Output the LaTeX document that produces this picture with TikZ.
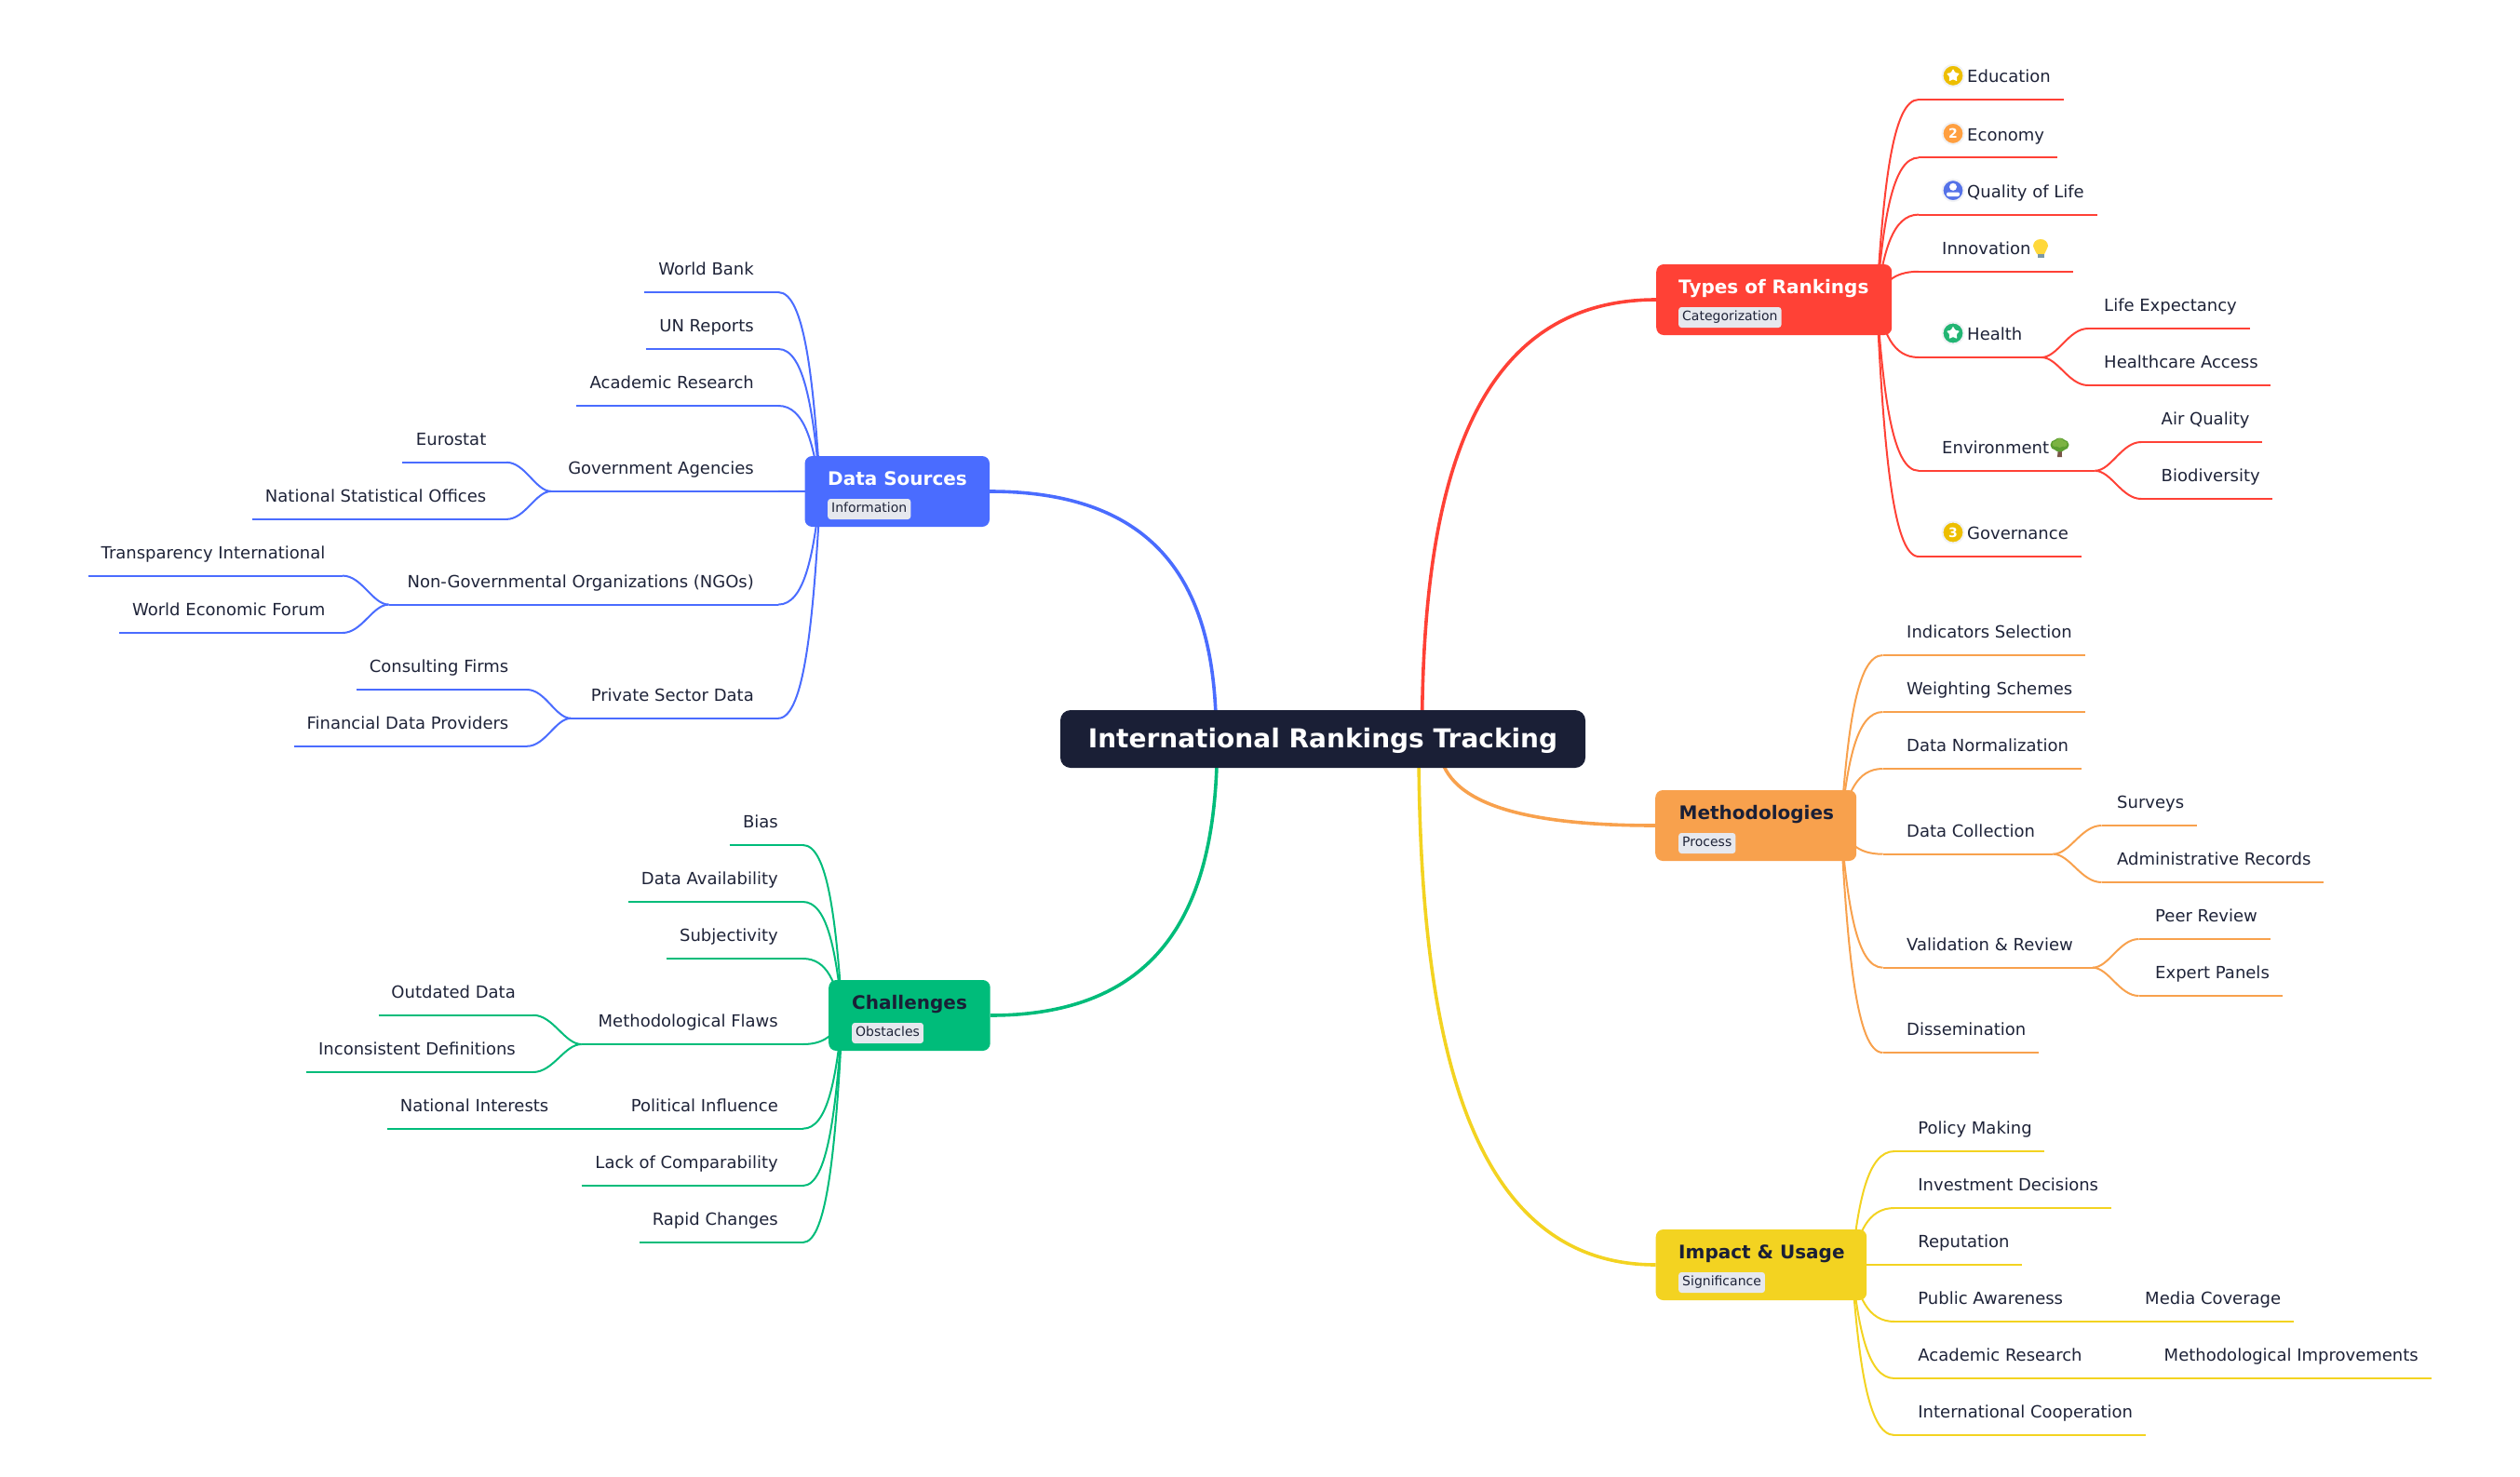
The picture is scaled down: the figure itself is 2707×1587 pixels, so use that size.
\documentclass[tikz,border=0pt]{standalone}
\usepackage{fontspec}
\setmainfont{DejaVu Sans}
\usetikzlibrary{calc,backgrounds,shapes.geometric}
\definecolor{tred}{HTML}{FF4136}
\definecolor{tblue}{HTML}{4A6CFF}
\definecolor{torange}{HTML}{F8A14D}
\definecolor{tgreen}{HTML}{00BC7A}
\definecolor{tyellow}{HTML}{F3D321}
\definecolor{tdark}{HTML}{1A1F36}
\definecolor{ttext}{HTML}{1E2338}
\definecolor{ttag}{HTML}{E6E8EE}
\definecolor{icyel}{HTML}{EDBE00}
\definecolor{icora}{HTML}{FF9F40}
\definecolor{icblu}{HTML}{5572E8}
\definecolor{icgrn}{HTML}{22B573}
\definecolor{halo}{HTML}{F1F2F5}
\definecolor{bulbc}{HTML}{FFD83A}
\definecolor{bulbb}{HTML}{7C98A6}
\definecolor{trunkc}{HTML}{795548}
\definecolor{treea}{HTML}{5C9E31}
\definecolor{treeb}{HTML}{7CB342}
\newcommand{\leaffont}{\fontsize{18}{20}\selectfont}
\newcommand{\titlefont}{\fontsize{20}{22}\selectfont\bfseries}
\newcommand{\rootfont}{\fontsize{28}{30}\selectfont\bfseries}
\newcommand{\tagfont}{\fontsize{14}{16}\selectfont}
\tikzset{
  x=1pt,y=-1pt,
  leaf/.style={inner sep=0pt,text height=15pt,text depth=18pt,text=ttext,font=\leaffont},
  branch/.style={line width=2pt},
  mainlink/.style={line width=3.6pt},
  mainbox/.style={rectangle,rounded corners=8pt,minimum height=76pt,inner sep=0pt,anchor=west},
  boxtitle/.style={inner sep=0pt,anchor=base west,font=\titlefont},
  boxtag/.style={rectangle,rounded corners=3pt,fill=ttag,text=ttext,font=\tagfont,inner xsep=4pt,inner ysep=0pt,
    text height=10.5pt,text depth=3.5pt,minimum height=22pt,anchor=west},
  rootbox/.style={rectangle,rounded corners=11pt,fill=tdark,text=white,font=\rootfont,minimum width=564pt,minimum height=62pt,inner sep=0pt,text height=22pt,text depth=4pt},
  iconbg/.style={circle,minimum size=23pt,inner sep=0pt,draw=halo,line width=2pt},
  iconmark/.style={star,star points=5,star point ratio=1.9,minimum size=15pt,inner sep=0pt,fill=white,rounded corners=1pt},
  icontext/.style={text=white,inner sep=0pt,font=\fontsize{14}{14}\selectfont\bfseries},
}
\newcommand{\bc}{tred}
\newcommand{\leafR}[6]{%
  \pgfmathsetmacro\lfwd{#3-#2}\pgfmathsetmacro\lfpd{#5-#2}%
  \node[leaf,anchor=south west] (#1) at (#2,#4) {\makebox[\lfwd pt][l]{\hspace*{\lfpd pt}#6}};
  \draw[branch,draw=\bc] (#1.south west) -- (#1.south east);}
\newcommand{\leafL}[6]{%
  \pgfmathsetmacro\lfwd{#3-#2}\pgfmathsetmacro\lfpd{#3-#5}%
  \node[leaf,anchor=south east] (#1) at (#3,#4) {\makebox[\lfwd pt][r]{#6\hspace*{\lfpd pt}}};
  \draw[branch,draw=\bc] (#1.south west) -- (#1.south east);}
\newcommand{\curvelink}[6]{\draw[#1] let \p1=(#2), \p2=(#3) in (\p1) .. controls ({\x1+#4*(\x2-\x1)},{\y1+#5*(\y2-\y1)}) and ({\x1+#6*(\x2-\x1)},\y2) .. (\p2);}
\newcommand{\BL}[2]{\curvelink{branch,draw=\bc}{#1}{#2}{.16}{.55}{.37}}
\newcommand{\SL}[2]{\curvelink{branch,draw=\bc}{#1}{#2}{.35}{0}{.58}}
\newcommand{\ML}[3]{\curvelink{mainlink,draw=#1}{#2}{#3}{0}{.5}{.15}}
\begin{document}
\begin{tikzpicture}
\useasboundingbox (0,0) rectangle (2707,1587);
% root
\node[rootbox] (root) at (1421,794) {International Rankings Tracking};
\coordinate (root-ds) at ([xshift=-114.5pt]root.center);
\coordinate (root-ch) at ([xshift=-113.5pt]root.center);
\coordinate (root-ty) at ([xshift=106.5pt]root.center);
\coordinate (root-im) at ([xshift=103pt]root.center);
\coordinate (root-me) at ([xshift=124pt]root.center);
% main boxes
\node[mainbox,fill=tred,minimum width=253pt] (types) at (1779,322) {};
\node[boxtitle,text=white] (types-t) at (1803,315) {Types of Rankings};
\node[boxtag] (types-g) at (1803,341) {Categorization};
\coordinate (types-o) at ([xshift=-16.5pt]types.east);
\node[mainbox,fill=tblue,minimum width=198.5pt] (ds) at (864.3,528) {};
\node[boxtitle,text=white] (ds-t) at (889,521) {Data Sources};
\node[boxtag] (ds-g) at (889,547) {Information};
\coordinate (ds-o) at ([xshift=17pt]ds.west);
\node[mainbox,fill=torange,minimum width=216pt] (meth) at (1778,887) {};
\node[boxtitle,text=tdark] (meth-t) at (1803.5,880) {Methodologies};
\node[boxtag] (meth-g) at (1803,906) {Process};
\coordinate (meth-o) at ([xshift=-17pt]meth.east);
\node[mainbox,fill=tgreen,minimum width=173.5pt] (chal) at (890,1091) {};
\node[boxtitle,text=tdark] (chal-t) at (915,1084) {Challenges};
\node[boxtag] (chal-g) at (915,1110) {Obstacles};
\coordinate (chal-o) at ([xshift=15pt]chal.west);
\node[mainbox,fill=tyellow,minimum width=226.5pt] (imp) at (1778.5,1359) {};
\node[boxtitle,text=tdark] (imp-t) at (1803,1352) {Impact \& Usage};
\node[boxtag] (imp-g) at (1803,1378) {Significance};
\coordinate (imp-o) at ([xshift=-16.5pt]imp.east);
% Types of Rankings
\renewcommand{\bc}{tred}
\leafR{edu}{2061}{2216.5}{107}{2113}{Education}
\leafR{eco}{2061}{2210}{169.4}{2113}{Economy}
\leafR{qol}{2061}{2253}{230.6}{2113}{Quality of Life}
\leafR{inn}{2061}{2226.6}{291.8}{2086}{Innovation}
\leafR{hea}{2061}{2192.6}{384}{2113}{Health}
\leafR{env}{2061}{2250}{505.8}{2086}{Environment}
\leafR{gvn}{2061}{2235.7}{598}{2113}{Governance}
\leafR{life}{2243}{2416.5}{353}{2260}{Life Expectancy}
\leafR{hca}{2243}{2438.5}{414}{2260}{Healthcare Access}
\leafR{air}{2300}{2430}{475}{2321.5}{Air Quality}
\leafR{bio}{2300}{2441}{536}{2321.5}{Biodiversity}
% icons
\node[iconbg,fill=icyel] (ic1) at (2098,81.3) {};
\node[iconmark] (ic1m) at (ic1) {};
\node[iconbg,fill=icora] (ic2) at (2098,143.4) {};
\node[icontext] (ic2m) at (ic2) {2};
\node[iconbg,fill=icblu] (ic3) at (2098,204.6) {};
\fill[white] (2098,200.8) circle (4pt);
\fill[white,rounded corners=2pt] (2091,211) -- (2091,206.5) -- (2105,206.5) -- (2105,211) -- cycle;
\node[iconbg,fill=icgrn] (ic4) at (2098,358) {};
\node[iconmark] (ic4m) at (ic4) {};
\node[iconbg,fill=icyel] (ic5) at (2098,572) {};
\node[icontext] (ic5m) at (ic5) {3};
% bulb
\fill[bulbc] (2192,257) .. controls (2197,257) and (2200,260.5) .. (2200,264.5) .. controls (2200,268) and (2196.5,269.5) .. (2196,273) -- (2188,273) .. controls (2187.5,269.5) and (2184,268) .. (2184,264.5) .. controls (2184,260.5) and (2187,257) .. (2192,257) -- cycle;
\fill[bulbb] (2188.5,272.5) rectangle (2195.5,277);
% tree
\fill[trunkc] (2211,480) -- (2214.5,480) -- (2215,491) -- (2210,491) -- cycle;
\fill[treea] (2208,478) circle (5.5pt) (2217,478) circle (5.5pt) (2212.5,478) circle (7.5pt);
\fill[treeb] (2212.5,476) circle (5pt) (2207.5,477) circle (3pt) (2217.5,477) circle (3pt);
% Data Sources
\renewcommand{\bc}{tblue}
\leafL{wb}{692.6}{836}{314}{810}{World Bank}
\leafL{un}{694}{836}{375}{810}{UN Reports}
\leafL{ar}{619.7}{836}{436}{810}{Academic Research}
\leafL{ga}{592.5}{836}{527.9}{810}{Government Agencies}
\leafL{ngo}{418}{836}{649.6}{810}{Non-Governmental Organizations (NGOs)}
\leafL{psd}{613.7}{836}{771.8}{810}{Private Sector Data}
\leafL{est}{432.7}{544}{496.8}{522.5}{Eurostat}
\leafL{nso}{270.9}{544}{557.9}{522.5}{National Statistical Offices}
\leafL{tri}{95}{368}{618.6}{349.5}{Transparency International}
\leafL{wef}{128.3}{368}{680}{349.5}{World Economic Forum}
\leafL{cof}{383}{566}{741}{546.5}{Consulting Firms}
\leafL{fdp}{316}{566}{801.8}{546.5}{Financial Data Providers}
% Methodologies
\renewcommand{\bc}{torange}
\leafR{ind}{2022.5}{2240}{704}{2048}{Indicators Selection}
\leafR{wei}{2022.5}{2240}{765}{2048}{Weighting Schemes}
\leafR{nor}{2022.5}{2236}{826}{2048}{Data Normalization}
\leafR{dco}{2022.5}{2205}{917.7}{2048}{Data Collection}
\leafR{val}{2022.5}{2247.5}{1039.7}{2048}{Validation \& Review}
\leafR{dis}{2022.5}{2190}{1131}{2048}{Dissemination}
\leafR{sur}{2257.5}{2360}{887}{2274}{Surveys}
\leafR{adm}{2257.5}{2496}{948}{2274}{Administrative Records}
\leafR{pee}{2297.5}{2439}{1009}{2315}{Peer Review}
\leafR{exp}{2297.5}{2452}{1070}{2315}{Expert Panels}
% Challenges
\renewcommand{\bc}{tgreen}
\leafL{bia}{784}{862.5}{908}{836}{Bias}
\leafL{dav}{675}{862.5}{969}{836}{Data Availability}
\leafL{sub}{716}{862.5}{1030}{836}{Subjectivity}
\leafL{mfl}{625}{862.5}{1122}{836}{Methodological Flaws}
\leafL{pol}{650}{862.5}{1212.7}{836}{Political Influence}
\leafL{lac}{625}{862.5}{1274}{836}{Lack of Comparability}
\leafL{rap}{687}{862.5}{1335}{836}{Rapid Changes}
\leafL{out}{407}{572.5}{1090.7}{554}{Outdated Data}
\leafL{inc}{329}{572.5}{1152}{554}{Inconsistent Definitions}
\leafL{nat}{416}{610}{1212.7}{589.5}{National Interests}
% Impact
\renewcommand{\bc}{tyellow}
\leafR{pm}{2035}{2196}{1237}{2060.2}{Policy Making}
\leafR{inv}{2035}{2268}{1298}{2060.2}{Investment Decisions}
\leafR{rep}{2035}{2172}{1359}{2060.2}{Reputation}
\leafR{pub}{2035}{2240}{1420}{2060.2}{Public Awareness}
\leafR{aca}{2035}{2270}{1481}{2060.2}{Academic Research}
\leafR{int}{2035}{2304.5}{1542}{2060.2}{International Cooperation}
\leafR{med}{2285}{2463.5}{1420}{2304}{Media Coverage}
\leafR{mim}{2305}{2612}{1481}{2324.5}{Methodological Improvements}
% connectors
\begin{scope}[on background layer]
\ML{tblue}{root-ds}{ds.east}
\ML{tgreen}{root-ch}{chal.east}
\ML{tred}{root-ty}{types.west}
\ML{tyellow}{root-im}{imp.west}
\ML{torange}{root-me}{meth.west}
\renewcommand{\bc}{tred}
\BL{types-o}{edu.south west}\BL{types-o}{eco.south west}\BL{types-o}{qol.south west}\BL{types-o}{inn.south west}
\BL{types-o}{hea.south west}\BL{types-o}{env.south west}\BL{types-o}{gvn.south west}
\SL{hea.south east}{life.south west}\SL{hea.south east}{hca.south west}
\SL{env.south east}{air.south west}\SL{env.south east}{bio.south west}
\renewcommand{\bc}{tblue}
\BL{ds-o}{wb.south east}\BL{ds-o}{un.south east}\BL{ds-o}{ar.south east}\BL{ds-o}{ga.south east}\BL{ds-o}{ngo.south east}\BL{ds-o}{psd.south east}
\SL{ga.south west}{est.south east}\SL{ga.south west}{nso.south east}
\SL{ngo.south west}{tri.south east}\SL{ngo.south west}{wef.south east}
\SL{psd.south west}{cof.south east}\SL{psd.south west}{fdp.south east}
\renewcommand{\bc}{torange}
\BL{meth-o}{ind.south west}\BL{meth-o}{wei.south west}\BL{meth-o}{nor.south west}\BL{meth-o}{dco.south west}\BL{meth-o}{val.south west}\BL{meth-o}{dis.south west}
\SL{dco.south east}{sur.south west}\SL{dco.south east}{adm.south west}
\SL{val.south east}{pee.south west}\SL{val.south east}{exp.south west}
\renewcommand{\bc}{tgreen}
\BL{chal-o}{bia.south east}\BL{chal-o}{dav.south east}\BL{chal-o}{sub.south east}\BL{chal-o}{mfl.south east}\BL{chal-o}{pol.south east}\BL{chal-o}{lac.south east}\BL{chal-o}{rap.south east}
\SL{mfl.south west}{out.south east}\SL{mfl.south west}{inc.south east}
\draw[branch,draw=tgreen] (pol.south west) -- (nat.south east);
\renewcommand{\bc}{tyellow}
\BL{imp-o}{pm.south west}\BL{imp-o}{inv.south west}\BL{imp-o}{rep.south west}\BL{imp-o}{pub.south west}\BL{imp-o}{aca.south west}\BL{imp-o}{int.south west}
\draw[branch,draw=tyellow] (pub.south east) -- (med.south west);
\draw[branch,draw=tyellow] (aca.south east) -- (mim.south west);
\end{scope}
\end{tikzpicture}
\end{document}
